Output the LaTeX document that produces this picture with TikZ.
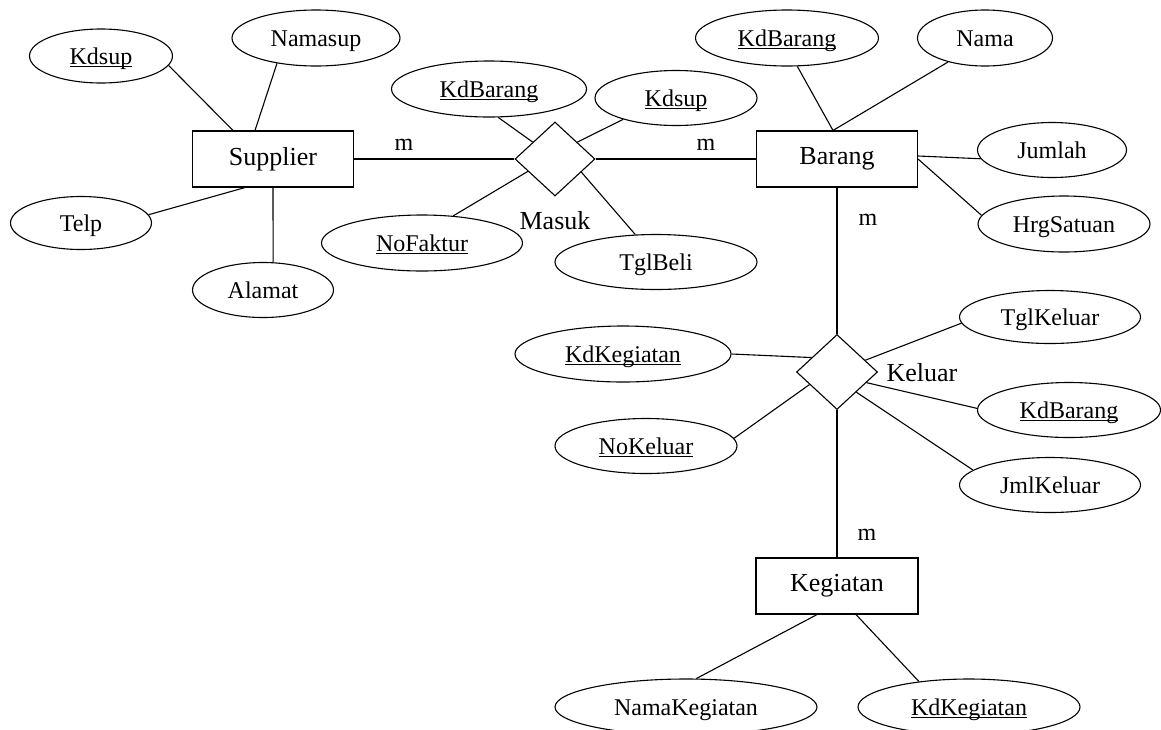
\documentclass[tikz,border=0pt]{standalone}
\usepackage{fontspec}
\setmainfont{Liberation Serif}
\usetikzlibrary{shapes.geometric,calc}
\newcommand\uln[1]{\setbox0\hbox{#1}\rlap{\rule[-2.6pt]{\wd0}{0.9pt}}\box0}
\begin{document}
\begin{tikzpicture}[x=1pt,y=-1pt,line width=1.1pt,
  attr/.style={ellipse,draw,inner sep=0pt,text height=16pt,text depth=0pt,font=\fontsize{24}{24}\selectfont},
  ent/.style={rectangle,draw,minimum width=161pt,minimum height=56pt,inner sep=0pt,font=\fontsize{26}{26}\selectfont},
  rel/.style={diamond,draw,inner sep=0pt},
  lbl/.style={inner sep=0pt,font=\fontsize{26}{26}\selectfont},
  card/.style={inner sep=0pt,font=\fontsize{24}{24}\selectfont}]
\useasboundingbox (0,0) rectangle (1161,729);
\clip (0,0) rectangle (1161,729);
% entities
\node[ent] (sup) at (273,159) {Supplier};
\node[ent] (bar) at (837,159) {Barang};
\node[ent,minimum width=162pt] (keg) at (837,586) {Kegiatan};
% relationships
\node[rel,minimum width=80pt,minimum height=74pt] (masuk) at (555,159) {};
\node[rel,minimum width=81pt,minimum height=75pt] (kel) at (837,372) {};
\node[lbl] (masukl) at (555,221) {Masuk};
\node[lbl] (kell) at (922,373) {Keluar};
% attributes
\node[attr,minimum width=143pt,minimum height=54pt] (kdsup) at (101,56) {\uln{Kdsup}};
\node[attr,minimum width=168pt,minimum height=56pt] (namasup) at (316,38) {Namasup};
\node[attr,minimum width=141pt,minimum height=53pt] (telp) at (81,223) {Telp};
\node[attr,minimum width=141pt,minimum height=55pt] (alamat) at (263,290) {Alamat};
\node[attr,minimum width=195pt,minimum height=56pt] (mkdbar) at (489,89) {\uln{KdBarang}};
\node[attr,minimum width=162pt,minimum height=55pt] (mkdsup) at (676,98) {\uln{Kdsup}};
\node[attr,minimum width=201pt,minimum height=56pt] (nofak) at (422,243) {\uln{NoFaktur}};
\node[attr,minimum width=202pt,minimum height=55pt] (tglbeli) at (656,262) {TglBeli};
\node[attr,minimum width=183pt,minimum height=56pt] (bkdbar) at (787,38) {\uln{KdBarang}};
\node[attr,minimum width=135pt,minimum height=56pt] (nama) at (985,38) {Nama};
\node[attr,minimum width=149pt,minimum height=55pt] (jumlah) at (1052,150) {Jumlah};
\node[attr,minimum width=172pt,minimum height=56pt] (hrg) at (1064,224) {HrgSatuan};
\node[attr,minimum width=181pt,minimum height=53pt] (tglkel) at (1050,317) {TglKeluar};
\node[attr,minimum width=216pt,minimum height=56pt] (kkdkeg) at (623,354) {\uln{KdKegiatan}};
\node[attr,minimum width=183pt,minimum height=55pt] (kkdbar) at (1069,410) {\uln{KdBarang}};
\node[attr,minimum width=181pt,minimum height=55pt] (jmlkel) at (1050,485) {JmlKeluar};
\node[attr,minimum width=182pt,minimum height=55pt] (nokel) at (646,446) {\uln{NoKeluar}};
\node[attr,minimum width=262pt,minimum height=56pt] (namakeg) at (686,707) {NamaKegiatan};
\node[attr,minimum width=222pt,minimum height=56pt] (gkdkeg) at (969,707) {\uln{KdKegiatan}};
% cardinalities
\node[card] (m1) at (404,145) {m};
\node[card] (m2) at (706,145) {m};
\node[card] (m3) at (868,220) {m};
\node[card] (m4) at (867,535) {m};
% relationship lines
\draw (sup.east) -- (masuk.west);
\draw (masuk.east) -- (bar.west);
\draw (bar.south) -- (kel.north);
\draw (kel.south) -- (keg.north);
% supplier attributes
\draw (kdsup.-8) -- ([xshift=-40pt]sup.north);
\draw (namasup.213) -- ([xshift=-18pt]sup.north);
\draw (telp.7) -- ([xshift=-28pt]sup.south);
\draw (alamat.70) -- (sup.south);
% masuk attributes
\draw (mkdbar.-72) -- ($(masuk.west)!0.45!(masuk.north)$);
\draw (mkdsup.202) -- ($(masuk.east)!0.45!(masuk.north)$);
\draw (nofak.41) -- ($(masuk.west)!0.33!(masuk.south)$);
\draw (tglbeli.127) -- ($(masuk.east)!0.35!(masuk.south)$);
% barang attributes
\draw (bkdbar.-70) -- ([xshift=-4pt]bar.north);
\draw (nama.213) -- ([xshift=-4pt]bar.north);
\draw (jumlah.187) -- ([yshift=3pt]bar.east);
\draw (hrg.174) -- (bar.east);
% keluar attributes
\draw (tglkel.184) -- ($(kel.east)!0.31!(kel.north)$);
\draw (kkdkeg.0) -- ($(kel.west)!0.38!(kel.north)$);
\draw (kkdbar.179) -- ($(kel.east)!0.28!(kel.south)$);
\draw (jmlkel.169) -- ($(kel.east)!0.53!(kel.south)$);
\draw (nokel.5) -- ($(kel.west)!0.33!(kel.south)$);
% kegiatan attributes
\draw (namakeg.70) -- ([xshift=-20pt]keg.south);
\draw (gkdkeg.153) -- ([xshift=19pt]keg.south);
\end{tikzpicture}
\end{document}
